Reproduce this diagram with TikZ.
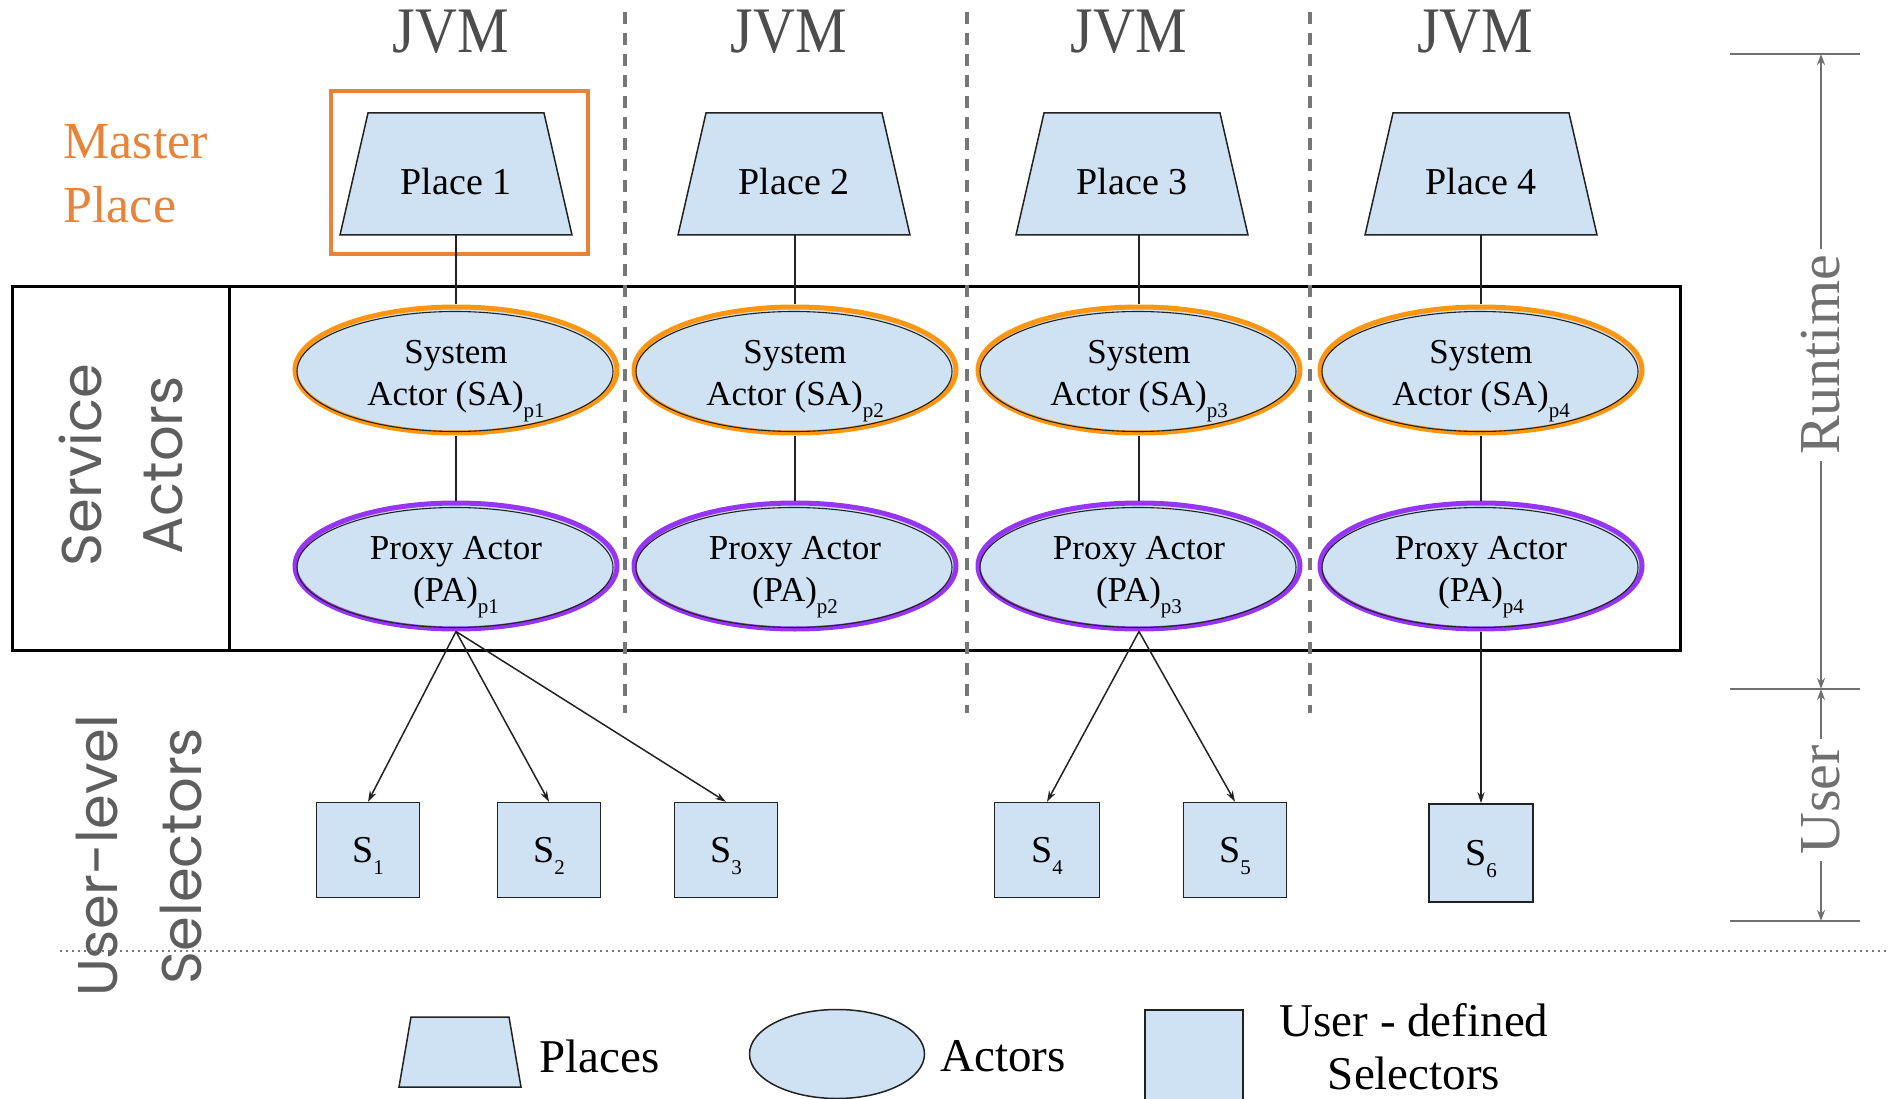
\documentclass[tikz,border=0pt]{standalone}
\usepackage{fontspec}
\setmainfont{Liberation Serif}
\newfontfamily\geofont{Poppins}
\usetikzlibrary{shapes.geometric,arrows.meta}

\definecolor{boxfill}{HTML}{CFE2F3}
\definecolor{outline}{HTML}{222222}
\definecolor{saorange}{HTML}{FF9510}
\definecolor{papurple}{HTML}{9635F5}
\definecolor{masterorange}{HTML}{E8833A}
\definecolor{jvmgray}{HTML}{4D4D4D}
\definecolor{sidegray}{HTML}{5E5E5E}
\definecolor{sepgray}{HTML}{777777}
\definecolor{scalegray}{HTML}{707070}

\newcommand\fs[2]{\fontsize{#1}{#2}\selectfont}
\newcommand\lowsub[1]{\raisebox{-0.33em}[0pt][0pt]{\fontsize{21}{21}\selectfont #1}}
\newcommand\tallish[1]{\scalebox{1}[1.12]{#1}}

\tikzset{
  placeshape/.style={fill=boxfill, draw=outline, line width=1.5pt, line join=miter},
  placetext/.style={font=\fs{38}{44}, inner sep=0pt},
  actor/.style={ellipse, minimum width=322pt, minimum height=126pt,
    inner sep=0pt, fill=boxfill, line width=5pt},
  actortext/.style={align=center, font=\fs{35}{42}, inner sep=0pt},
  sysactor/.style={actor, draw=saorange},
  proxyactor/.style={actor, draw=papurple},
  rim/.style={outline, line width=1.1pt},
  selector/.style={rectangle, minimum width=103pt, minimum height=95pt,
    inner sep=0pt, fill=boxfill, draw=outline, line width=1.5pt,
    font=\fs{38}{44}},
  jvm/.style={font=\fs{58}{60}, text=jvmgray, anchor=base},
  sidelabel/.style={font=\geofont\fs{56}{60}, text=sidegray, rotate=90},
  link/.style={draw=outline, line width=1.5pt},
  arrowlink/.style={link, -{Stealth[length=11pt,width=7pt]}},
  jvmsep/.style={draw=sepgray, line width=4pt, dash pattern=on 12pt off 9pt},
  scaleline/.style={draw=scalegray, line width=2pt},
  scalearrow/.style={scaleline, {Stealth[length=11pt,width=8pt]}-{Stealth[length=11pt,width=8pt]}},
  scalelabel/.style={font=\fs{58}{60}, text=scalegray, rotate=90, fill=white, inner sep=6pt},
  legendtext/.style={font=\fs{47}{53}, align=center},
}

\begin{document}
\begin{tikzpicture}[x=1pt, y=-1pt]
\useasboundingbox (0,0) rectangle (1888,1099);

% JVM headings
\node[jvm] (jvm1) at (451,53) {\tallish{JVM}};
\node[jvm] (jvm2) at (789,53) {\tallish{JVM}};
\node[jvm] (jvm3) at (1129,53) {\tallish{JVM}};
\node[jvm] (jvm4) at (1475,53) {\tallish{JVM}};

% master place marker
\node[font=\fs{52}{64}, text=masterorange, align=left, anchor=west] (masterlabel) at (60,174) {Master\\Place};
\node[draw=masterorange, line width=4pt, minimum width=257pt, minimum height=163pt, inner sep=0pt] (masterbox) at (459.5,172.5) {};

% service actors frame
\node[draw=black, line width=3pt, minimum width=1668pt, minimum height=363pt, inner sep=0pt] (svcbox) at (846,468.5) {};
\coordinate (divtop) at (229,287);
\coordinate (divbot) at (229,650);
\draw[black, line width=3pt] (divtop) -- (divbot);

% places (trapezoids), with the foot point of each column's link
\foreach \cx/\lx/\n in {456/456/1, 794/795/2, 1132/1139/3, 1481/1481/4} {
  \draw[placeshape] ({\cx-116},235) -- ({\cx+116},235) -- ({\cx+88},113) -- ({\cx-88},113) -- cycle;
  \node[placetext] (pl\n) at (\cx,182) {Place \n};
  \coordinate (plfoot\n) at (\lx,235);
}

% system and proxy actors, one column per place
\foreach \cx/\n in {456/1, 795/2, 1139/3, 1481/4} {
  \node[sysactor] (sa\n) at (\cx,370) {};
  \draw[rim] ([xshift=-1pt,yshift=-1.5pt]sa\n.center) ellipse [x radius=158pt, y radius=60pt];
  \node[actortext] (sa\n text) at (\cx,377) {System\\Actor (SA)\lowsub{p\n}};
  \node[proxyactor] (pa\n) at (\cx,566) {};
  \draw[rim] ([xshift=-1pt,yshift=-1.5pt]pa\n.center) ellipse [x radius=158pt, y radius=60pt];
  \node[actortext] (pa\n text) at (\cx,573) {Proxy Actor\\(PA)\lowsub{p\n}};
}

% user-level selectors
\node[selector] (s1) at (368,850) {S\lowsub{1}};
\node[selector] (s2) at (549,850) {S\lowsub{2}};
\node[selector] (s3) at (726,850) {S\lowsub{3}};
\node[selector, minimum width=105pt] (s4) at (1047,850) {S\lowsub{4}};
\node[selector] (s5) at (1235,850) {S\lowsub{5}};
\node[selector, minimum width=104pt, minimum height=98pt] (s6) at (1481,853) {S\lowsub{6}};

% place -> system actor -> proxy actor
\foreach \i in {1,2,3,4} {
  \draw[link] (plfoot\i) -- (sa\i.north);
  \draw[link] (sa\i.south) -- (pa\i.north);
}

% proxy actors -> selectors
\draw[arrowlink] (pa1.south) -- (s1.north);
\draw[arrowlink] (pa1.south) -- (s2.north);
\draw[arrowlink] (pa1.south) -- (s3.north);
\draw[arrowlink] (pa3.south) -- (s4.north);
\draw[arrowlink] (pa3.south) -- (s5.north);
\draw[arrowlink] (pa4.south) -- (s6.north);

% JVM separators
\coordinate (sep1t) at (625,12);   \coordinate (sep1b) at (625,713);
\coordinate (sep2t) at (967,12);   \coordinate (sep2b) at (967,713);
\coordinate (sep3t) at (1310,12);  \coordinate (sep3b) at (1310,713);
\draw[jvmsep] (sep1t) -- (sep1b);
\draw[jvmsep] (sep2t) -- (sep2b);
\draw[jvmsep] (sep3t) -- (sep3b);

% side labels
\node[sidelabel] (svclabel1) at (80,465) {Service};
\node[sidelabel] (svclabel2) at (163,465) {Actors};
\node[sidelabel] (usrlabel1) at (97,856) {User-level};
\node[sidelabel] (usrlabel2) at (181,856) {Selectors};

% runtime / user boundary
\coordinate (lineL) at (60,951);
\coordinate (lineR) at (1888,951);
\draw[sepgray, line width=1.6pt, dash pattern=on 2pt off 4pt] (lineL) -- (lineR);

% runtime / user scale
\coordinate (tickTopL) at (1730,54);  \coordinate (tickTopR) at (1860,54);
\coordinate (tickMidL) at (1730,689); \coordinate (tickMidR) at (1860,689);
\coordinate (tickBotL) at (1730,921); \coordinate (tickBotR) at (1860,921);
\coordinate (rtTop) at (1821,54);
\coordinate (rtMid) at (1821,689);
\coordinate (rtBot) at (1821,921);
\draw[scaleline] (tickTopL) -- (tickTopR);
\draw[scaleline] (tickMidL) -- (tickMidR);
\draw[scaleline] (tickBotL) -- (tickBotR);
\draw[scalearrow] (rtTop) -- (rtMid) node[scalelabel, pos=0.474] (rtlabel) {Runtime};
\draw[scalearrow] (rtMid) -- (rtBot) node[scalelabel, pos=0.478] (uslabel) {User};

% legend
\draw[placeshape] (399,1087) -- (521,1087) -- (509,1017) -- (411,1017) -- cycle;
\node[legendtext, anchor=west] (lgplacetext) at (536,1056) {Places};
\node[ellipse, minimum width=175pt, minimum height=89pt, inner sep=0pt, fill=boxfill, draw=outline, line width=1.5pt] (lgactor) at (837,1054) {};
\node[legendtext, anchor=west] (lgactortext) at (937,1056) {Actors};
\node[selector, minimum width=98pt, minimum height=92pt] (lgsel) at (1194,1056) {};
\node[legendtext] (lgseltext) at (1414,1047) {User - defined\\Selectors};
\end{tikzpicture}
\end{document}
